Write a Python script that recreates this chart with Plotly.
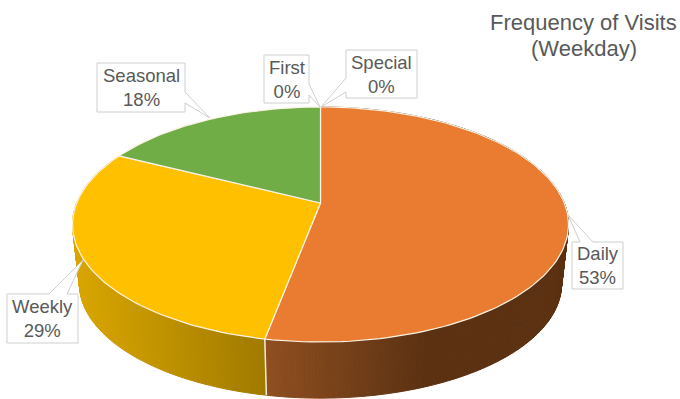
import math
import plotly.graph_objects as go

categories = ["Special", "Daily", "Weekly", "Seasonal", "First"]
shares = [0, 53, 29.4, 17.6, 0]
top_colors = ["#4472C4", "#E97C30", "#FFC000", "#70AD47", "#5B9BD5"]
title_lines = ["Frequency of Visits", "(Weekday)"]

W, H = 680, 399
CX, CY = 320.5, 203.0
A, B, K = 243.8, 113.6, 0.183
DISC_DEPTH, DISC_SCALE = 60.0, 0.972
N_STEP = 0.75  # degrees per facet

# side shading: colour at x0 -> colour at x1, per category
side_grad = {
    "Daily": ((266, (0x8F, 0x4F, 0x20)), (425, (0x5B, 0x31, 0x12))),
    "Weekly": ((80, (0xD8, 0xA5, 0x00)), (266, (0xA0, 0x7A, 0x00))),
}

# callout labels: box (x0, y0, x1, y1), notch start, tip, notch end (clockwise outline)
callouts = {
    "Seasonal": {"box": (97, 63, 185, 112), "edge": "r", "a": (185, 92), "t": (210, 118), "b": (185, 103)},
    "First": {"box": (264, 55, 309, 103), "edge": "r", "a": (309, 84), "t": (320, 107), "b": (309, 95)},
    "Special": {"box": (346, 50, 417, 98), "edge": "l", "a": (346, 92), "t": (321, 107), "b": (346, 78)},
    "Weekly": {"box": (7, 294, 78, 343), "edge": "t", "a": (49, 294), "t": (83, 260), "b": (67, 294)},
    "Daily": {"box": (572, 242, 623, 289), "edge": "t", "a": (580, 242), "t": (568, 215), "b": (593, 242)},
}


def project(deg, bottom=False):
    """Angle clockwise from 12 o'clock onto the perspective disc."""
    t = math.radians(deg)
    X, Y = math.sin(t), math.cos(t)
    d = 1 + K * Y
    s = DISC_SCALE if bottom else 1.0
    off = DISC_DEPTH if bottom else 0.0
    return CX + s * A * X / d, CY + off - s * B * Y / d


def mix(grad, x):
    (x0, c0), (x1, c1) = grad
    f = max(0.0, min(1.0, (x - x0) / (x1 - x0)))
    return "rgb(%d,%d,%d)" % tuple(round(a + (b - a) * f) for a, b in zip(c0, c1))


def arc(a, b, step=N_STEP):
    n = max(2, int(abs(b - a) / step) + 1)
    return [a + (b - a) * i / n for i in range(n + 1)]


total = sum(shares)
spans = {}
run = 0.0
for name, v in zip(categories, shares):
    spans[name] = (run * 360 / total, (run + v) * 360 / total)
    run += v

fig = go.Figure()


def poly(xs, ys, fill, line=None, width=1):
    fig.add_trace(go.Scatter(x=xs, y=ys, mode="lines", fill="toself", fillcolor=fill,
                             line=dict(color=line or fill, width=width),
                             hoverinfo="skip", showlegend=False))


# side wall, facet by facet
for name in categories:
    a, b = spans[name]
    if b <= a or name not in side_grad:
        continue
    angles = arc(a, b)
    for u, v in zip(angles[:-1], angles[1:]):
        p = [project(u), project(v), project(v, True), project(u, True)]
        mx = sum(q[0] for q in p) / 4
        col = mix(side_grad[name], mx)
        poly([q[0] for q in p] + [p[0][0]], [q[1] for q in p] + [p[0][1]], col)

# vertical seam at the Daily/Weekly edge
seam = spans["Daily"][1]
p, q = project(seam), project(seam, True)
fig.add_trace(go.Scatter(x=[p[0], q[0]], y=[p[1], q[1]], mode="lines",
                         line=dict(color="#F3E9DC", width=1.5), hoverinfo="skip", showlegend=False))

# top face
for name, col in zip(categories, top_colors):
    a, b = spans[name]
    if b <= a:
        continue
    pts = [project(t) for t in arc(a, b, 1.5)]
    xs = [CX] + [r[0] for r in pts] + [CX]
    ys = [CY] + [r[1] for r in pts] + [CY]
    poly(xs, ys, col, "#FBF3E6", 1.2)

# callouts
shapes = []
annots = []
for name, v in zip(categories, shares):
    c = callouts[name]
    x0, y0, x1, y1 = c["box"]
    ax, ay = c["a"]
    tx, ty = c["t"]
    bx, by = c["b"]
    if c["edge"] == "r":
        pts = [(x0, y0), (x1, y0), (ax, ay), (tx, ty), (bx, by), (x1, y1), (x0, y1)]
    elif c["edge"] == "l":
        pts = [(x0, y0), (x1, y0), (x1, y1), (x0, y1), (ax, ay), (tx, ty), (bx, by)]
    else:
        pts = [(x0, y0), (ax, ay), (tx, ty), (bx, by), (x1, y0), (x1, y1), (x0, y1)]
    path = "M " + " L ".join(f"{px} {py}" for px, py in pts) + " Z"
    shapes.append(dict(type="path", path=path, xref="x", yref="y", fillcolor="white",
                       line=dict(color="#CFCFCF", width=1), layer="above"))
    annots.append(dict(x=(x0 + x1) / 2, y=(y0 + y1) / 2, xref="x", yref="y",
                       text=f"{name}<br>{round(v)}%", showarrow=False, align="center",
                       font=dict(family="Liberation Sans", size=18.5, color="#595959")))

for line, ty in zip(title_lines, (22, 48)):
    annots.append(dict(x=583.5, y=ty, xref="x", yref="y", text=line,
                       showarrow=False, align="center",
                       font=dict(family="Liberation Sans", size=22, color="#595959")))

fig.update_layout(
    width=W, height=H, margin=dict(l=0, r=0, t=0, b=0),
    paper_bgcolor="white", plot_bgcolor="white", showlegend=False,
    xaxis=dict(range=[0, W], visible=False, fixedrange=True),
    yaxis=dict(range=[H, 0], visible=False, fixedrange=True),
    shapes=shapes, annotations=annots,
)
fig.write_html("out.html", config=dict(displayModeBar=False),
               post_script="document.body.style.margin='0';document.documentElement.style.overflow='hidden';")
